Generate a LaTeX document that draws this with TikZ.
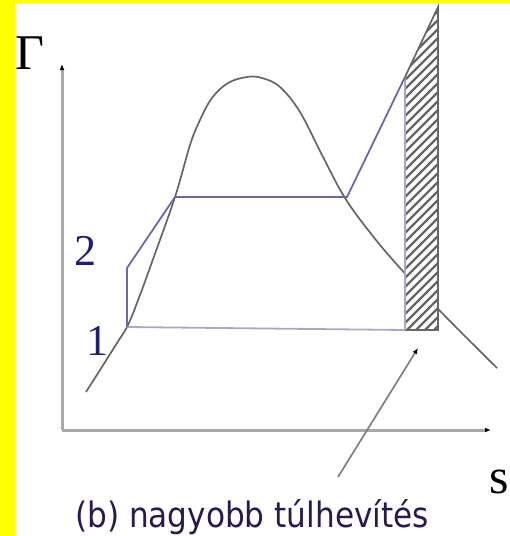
\documentclass[tikz,border=0pt]{standalone}
\usepackage{fontspec}
\setmainfont{Liberation Serif}
\newfontfamily\capfont{DejaVu Sans}
\usetikzlibrary{arrows.meta,positioning}
\definecolor{MarkYellow}{HTML}{FFFF00}
\definecolor{AxisGray}{HTML}{A8A8A8}
\definecolor{DomeGray}{HTML}{666666}
\definecolor{CycBlue}{HTML}{6A6AA6}
\definecolor{CycLight}{HTML}{A8A8CC}
\definecolor{LabelNavy}{HTML}{1E1E78}
\definecolor{CapInk}{HTML}{2A1850}
\tikzset{
  axis/.style={draw=AxisGray,line width=3pt,-{Latex[black,length=6pt,width=5pt]}},
  dome/.style={draw=DomeGray,line width=1.7pt},
  cycle/.style={draw=CycBlue,line width=1.8pt},
  hatchline/.style={draw=DomeGray,line width=2.2pt},
  pointer/.style={draw=gray,line width=1.7pt,-{Latex[black,length=6pt,width=5pt]}},
  ptlabel/.style={font=\fontsize{44}{44}\selectfont,text=LabelNavy,inner sep=0pt},
  axlabel/.style={font=\fontsize{50}{50}\selectfont,text=black,inner sep=0pt}
}
\begin{document}
\begin{tikzpicture}[x=1pt,y=-1pt]
  \useasboundingbox (0,0) rectangle (510,536);
  \fill[MarkYellow] (0,0) rectangle (15,536);
  \fill[MarkYellow] (0,0) rectangle (510,3);

  % axes
  \coordinate (o) at (62,430);
  \draw[axis] (o) -- (62,64);
  \draw[axis] (o) -- (491,430);
  \node[axlabel,anchor=north west] (T) at (15,37) {Γ};
  \node[axlabel,anchor=base east] (s) at (509,493) {s};

  % saturation curve
  \draw[dome] plot[smooth,tension=0.6] coordinates {(86,392) (100,370) (117,343) (128,325)
    (140,295) (152,262) (175,197) (190,145) (200,120) (212,98) (228,83) (247,77) (262,78)
    (280,87) (300,112) (322,155) (345,198) (372,235) (400,268) (442,313) (497,368)};

  % cycle points
  \coordinate (p1) at (127,327);
  \coordinate (p2) at (127,268);
  \coordinate (p3) at (175,197);
  \coordinate (p4) at (347,197);
  \coordinate (p5) at (405,77);
  \coordinate (p6) at (405,330);
  \coordinate (h1) at (438,7);
  \coordinate (h2) at (438,330);

  % hatched strip
  \fill[white] (p5) -- (h1) -- (h2) -- (p6) -- cycle;
  \begin{scope}
    \clip (p5) -- (h1) -- (h2) -- (p6) -- cycle;
    \foreach \k in {0,...,40}
      \draw[hatchline] (400,40+\k*9) -- ++(45,-45);
  \end{scope}
  \draw[DomeGray,line width=1.7pt] (p5) -- (h1) -- (h2) -- (p6);
  \draw[draw=CycLight,line width=2.2pt] (p6) -- (p5);

  \draw[cycle,draw=CycLight] (p1) -- (p6);
  \draw[cycle] (p1) -- (p2) -- (p3) -- (p4) -- (p5);
  \node[ptlabel,anchor=south east] (l2) at (97,266) {2};
  \node[ptlabel,anchor=south east] (l1) at (109,356) {1};

  \coordinate (tail) at (338,477);
  \coordinate (head) at (418,348);
  \draw[pointer] (tail) -- (head);
  \node[anchor=base,inner sep=0pt,text=CapInk] (cap) at (252,527)
    {\scalebox{0.89}[1]{\capfont\fontsize{35}{35}\selectfont (b) nagyobb túlhevítés}};
\end{tikzpicture}
\end{document}
